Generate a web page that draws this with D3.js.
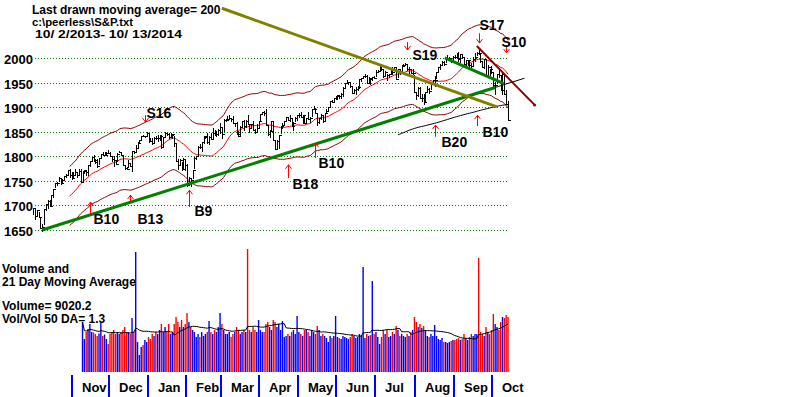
<!DOCTYPE html>
<html>
<head>
<meta charset="utf-8">
<script src="https://cdn.jsdelivr.net/npm/d3@7"></script>
<style>
  body { margin: 0; background: #fff; }
  svg { display: block; font-family: "Liberation Sans", Arial, sans-serif; font-weight: bold; }
</style>
</head>
<body>
<svg id="chart" width="795" height="397"></svg>
<script>
// S&P 500, 10/2/2013 - 10/13/2014, one entry per trading day (day 0 = Oct 2 2013)
const closes = [
  1694,1679,1691,1676,1655,1656,1693,1703,1710,1698,1722,1733,1745,1745,1755,1746,1752,1760,1762,1772,1763,1757, // Oct
  1762,1768,1763,1770,1747,1771,1772,1768,1782,1791,1798,1792,1788,1781,1796,1805,1802,1803,1807,1806, // Nov
  1801,1795,1793,1785,1805,1808,1803,1782,1776,1775,1787,1781,1811,1810,1818,1828,1833,1842,1841,1841,1848, // Dec
  1832,1831,1827,1838,1837,1838,1842,1819,1839,1848,1846,1839,1844,1845,1828,1790,1782,1793,1774,1794,1783, // Jan
  1742,1755,1752,1773,1797,1800,1820,1819,1830,1839,1841,1829,1840,1836,1848,1845,1845,1854,1859, // Feb
  1846,1874,1874,1877,1878,1877,1868,1868,1846,1841,1859,1872,1861,1872,1867,1857,1866,1853,1849,1858,1872, // Mar
  1886,1891,1889,1865,1845,1852,1872,1833,1816,1831,1843,1862,1865,1872,1880,1875,1879,1863,1869,1878,1884, // Apr
  1884,1881,1885,1868,1878,1876,1878,1897,1897,1889,1871,1878,1885,1873,1888,1892,1901,1912,1910,1920,1924, // May
  1925,1924,1928,1940,1949,1951,1951,1944,1930,1936,1938,1942,1957,1959,1963,1963,1950,1960,1957,1961,1960, // Jun
  1973,1975,1985,1978,1964,1973,1965,1968,1977,1973,1982,1958,1978,1974,1984,1987,1988,1978,1979,1970,1970,1931, // Jul
  1925,1939,1920,1920,1910,1932,1937,1934,1947,1955,1955,1972,1982,1987,1992,1988,1998,2000,2000,1997,2003, // Aug
  2002,2001,1998,2008,2002,1988,1996,1997,1986,1984,1999,2002,2011,2010,1994,1983,1998,1966,1983,1978,1972, // Sep
  1946,1946,1968,1965,1935,1969,1928,1906,1875 // Oct
];
const highs = [
  1694,1692,1691,1687,1677,1662,1693,1704,1711,1711,1722,1734,1745,1747,1759,1753,1753,1760,1764,1772,1775,1768,
  1768,1774,1767,1774,1775,1771,1773,1771,1783,1791,1799,1803,1795,1795,1797,1805,1808,1808,1808,1813,
  1810,1800,1800,1793,1806,1811,1808,1803,1783,1779,1792,1787,1812,1812,1823,1829,1834,1842,1844,1842,1849,
  1846,1838,1837,1840,1841,1843,1843,1843,1839,1850,1848,1847,1848,1846,1842,1827,1795,1795,1789,1796,1794,
  1784,1758,1756,1773,1798,1801,1822,1826,1830,1841,1842,1847,1842,1847,1858,1853,1852,1855,1868,
  1857,1876,1876,1883,1884,1878,1882,1868,1870,1852,1862,1873,1874,1874,1884,1867,1867,1872,1856,1866,1873,
  1886,1891,1893,1897,1864,1854,1873,1873,1833,1834,1844,1862,1869,1872,1880,1880,1884,1876,1870,1880,1884,
  1888,1891,1885,1885,1879,1890,1881,1897,1903,1898,1888,1879,1887,1885,1888,1896,1901,1912,1914,1920,1924,
  1925,1925,1929,1941,1950,1955,1951,1950,1943,1938,1941,1943,1958,1960,1964,1968,1966,1961,1959,1961,1964,
  1977,1976,1985,1985,1976,1974,1968,1968,1979,1982,1983,1981,1979,1977,1986,1989,1991,1988,1982,1978,1979,1965,
  1932,1942,1942,1928,1928,1932,1944,1939,1948,1955,1964,1972,1982,1988,1994,1994,2002,2006,2003,1999,2004,
  2006,2011,2012,2008,2008,2002,1996,1997,1996,1990,2002,2010,2012,2019,2010,1994,1999,1998,1986,1979,1985,
  1972,1952,1968,1977,1965,1970,1968,1936,1912
];
const lows = [
  1680,1671,1676,1675,1655,1646,1660,1689,1692,1697,1699,1716,1736,1740,1747,1742,1745,1751,1757,1762,1755,1752,
  1755,1762,1756,1762,1747,1746,1764,1761,1760,1779,1791,1789,1785,1777,1783,1795,1800,1800,1802,1805,
  1798,1788,1779,1783,1789,1806,1801,1780,1773,1772,1777,1780,1768,1805,1810,1818,1828,1834,1839,1837,1842,
  1828,1830,1823,1827,1833,1830,1832,1815,1819,1839,1841,1836,1837,1835,1820,1790,1773,1782,1771,1775,1770,
  1738,1741,1738,1753,1774,1792,1800,1815,1809,1825,1835,1826,1824,1835,1836,1841,1840,1841,1846,
  1835,1849,1871,1874,1874,1870,1866,1859,1844,1840,1842,1858,1851,1858,1865,1847,1858,1852,1845,1850,1858,
  1873,1884,1883,1863,1841,1837,1852,1832,1814,1816,1816,1846,1856,1863,1870,1874,1870,1860,1851,1870,1873,
  1879,1878,1867,1867,1866,1874,1868,1880,1895,1888,1862,1867,1874,1869,1873,1887,1893,1901,1909,1910,1916,
  1916,1918,1918,1922,1940,1947,1945,1940,1928,1930,1926,1933,1938,1952,1959,1960,1949,1947,1945,1953,1958,
  1961,1970,1975,1975,1960,1964,1953,1960,1969,1966,1975,1956,1960,1966,1975,1983,1985,1975,1968,1969,1966,1930,
  1916,1922,1918,1911,1905,1909,1932,1928,1935,1947,1941,1958,1972,1977,1987,1984,1991,1998,1996,1991,1995,
  1998,1999,1992,1990,1998,1987,1983,1985,1983,1978,1982,1993,2004,2006,1990,1982,1979,1965,1966,1964,1968,
  1942,1926,1948,1959,1935,1925,1928,1906,1874
];

// volume is shown from day 27 (Nov 8 2013) on
const volumeStart = 27;
const volumes = [
  8200,5410,6560,7050,7870,6560,6480,6230,5900,6300,8150,5900,6150,5410,4590, // Nov
  6230,6560,6890,6230,6560,6230,6560,6890,7380,6560,6560,6230,8860,6560,19680,4920,2790,4100,4430,5250,4920, // Dec
  5740,5410,6230,5900,6560,6230,6890,7870,6560,7380,6560,7870,6230,6560,7870,9020,8200,7380,8530,7380,7870, // Jan
  9680,8200,7380,6890,6560,5740,6230,5740,6560,5900,6230,6560,8360,6560,6230,6890,6560,7380,9680, // Feb
  7870,6890,6230,6230,6560,5740,6230,6560,7380,6890,6230,6560,6890,6560,20170,6890,6560,7380,6890,6560,8530, // Mar
  6890,6560,6560,7870,8200,7380,6890,8530,8200,7380,7870,6890,8360,5740,5900,6230,5900,6560,6890,6230,9180, // Apr
  6560,6230,5900,6890,6890,6560,5900,6890,6560,6230,7540,6890,5900,6230,5900,5580,4920,5900,5580,5900,9180, // May
  5740,5580,5410,5900,5740,5580,5410,5740,6230,5900,5580,5740,6230,5900,17220,5580,6230,5900,6070,14920,6230, // Jun
  6560,5740,4590,5740,6890,6230,6890,5740,5900,6560,6230,7540,6890,5900,6230,5900,5740,6230,5900,6560,6890,9020, // Jul
  8200,7380,7870,7220,7540,6890,5900,5740,6230,5900,7710,5900,5410,5250,5580,4920,4920,4760,4920,5080,5250, // Aug
  5250,5410,5580,5250,5410,6230,5580,5250,5740,6230,5900,6230,6230,18700,6560,6230,5900,7380,6560,6230,6890, // Sep
  9510,7870,7380,6890,8200,9020,8860,9350,9020.2 // Oct
];

const priceTicks = [1650, 1700, 1750, 1800, 1850, 1900, 1950, 2000];
const months = [
  {label: 'Nov', day: 22}, {label: 'Dec', day: 42}, {label: 'Jan', day: 63}, {label: 'Feb', day: 84},
  {label: 'Mar', day: 103}, {label: 'Apr', day: 124}, {label: 'May', day: 145}, {label: 'Jun', day: 166},
  {label: 'Jul', day: 187}, {label: 'Aug', day: 209}, {label: 'Sep', day: 230}, {label: 'Oct', day: 251}
];

// signals: arrow runs from `tail` price to `tip` price
const buySignals = [
  {label: 'B10', day: 31, tip: 1707, tail: 1681},
  {label: 'B13', day: 53, tip: 1721, tail: 1707},
  {label: 'B9', day: 85, tip: 1731, tail: 1697},
  {label: 'B18', day: 139, tip: 1783, tail: 1756},
  {label: 'B10', day: 154, tip: 1827, tail: 1797},
  {label: 'B20', day: 219, tip: 1864, tail: 1840},
  {label: 'B10', day: 242, tip: 1884, tail: 1862}
];
const sellSignals = [
  {label: 'S16', day: 61, tail: 1884, tip: 1870},
  {label: 'S19', day: 204, tail: 2033, tip: 2017},
  {label: 'S17', day: 243, tail: 2051, tip: 2031},
  {label: 'S10', day: 258, tail: 2027, tip: 2011}
];

// hand drawn trend lines, [day, price] end points
const trendLines = [
  {name: 'support', from: [5, 1650], to: [252, 1940.5]},
  {name: 'supportExt', from: [252, 1940.5], to: [268, 1959.4]},
  {name: 'topLine', from: [224.5, 2001], to: [256.5, 1949]},
  {name: 'longDown', from: [103, 2102], to: [253, 1901]},
  {name: 'shortDown', from: [242, 2025], to: [273.5, 1905]}
];

const svg = d3.select('#chart');

const x = d3.scaleLinear().domain([0, 259]).range([33, 508]);
const y = d3.scaleLinear().domain([1650, 2000]).range([230, 58.3]);
const vy = d3.scaleLinear().domain([0, 9020.2]).range([372, 317]);

const px = d => Math.round(x(d)) + 0.5;

// moving averages
function movingAverage(values, n) {
  return values.map((v, i) => i < n - 1 ? null : d3.mean(values.slice(i - n + 1, i + 1)));
}
const ma21 = movingAverage(closes, 21);
const ma200 = movingAverage(closes, 200);
const volMa = volumes.map((v, i) => d3.mean(volumes.slice(Math.max(0, i - 20), i + 1)));

// header
const header = svg.append('g').attr('fill', '#000');
header.append('text').attr('x', 32).attr('y', 13.5).attr('font-size', 12)
    .text('Last drawn moving average= 200');
header.append('text').attr('x', 32).attr('y', 25.5).attr('font-size', 11)
    .attr('textLength', 101).attr('lengthAdjust', 'spacingAndGlyphs').text('c:\\peerless\\S&P.txt');
header.append('text').attr('x', 35).attr('y', 38.3).attr('font-size', 11.5)
    .attr('textLength', 147).attr('lengthAdjust', 'spacingAndGlyphs').text('10/ 2/2013- 10/ 13/2014');

// price axis + dotted grid
svg.append('g')
    .attr('transform', 'translate(35,0)')
    .call(d3.axisLeft(y).tickValues(priceTicks).tickSize(-473).tickPadding(2).tickFormat(d3.format('d')))
    .call(g => g.select('.domain').remove())
    .call(g => g.selectAll('.tick').attr('transform', d => `translate(0,${Math.round(y(d)) + 0.5})`))
    .call(g => g.selectAll('.tick line').attr('stroke', '#008000').attr('stroke-dasharray', '1,2'))
    .call(g => g.selectAll('.tick text')
      .attr('font-family', '"Liberation Sans", Arial, sans-serif')
      .attr('font-size', 13).attr('font-weight', 'bold').attr('fill', '#000').attr('dy', '0.45em'))
    .attr('font-family', null).attr('font-size', null);

// bands around the 21-day average
const bandLine = (k) => d3.line()
    .defined(d => d.v != null)
    .x(d => x(d.i)).y(d => y(d.v * k));
const maPoints = ma21.map((v, i) => ({i, v}));
svg.append('path').datum(maPoints).attr('d', bandLine(1.035))
    .attr('fill', 'none').attr('stroke', '#8b0000').attr('stroke-width', 1);
svg.append('path').datum(maPoints).attr('d', bandLine(0.965))
    .attr('fill', 'none').attr('stroke', '#8b0000').attr('stroke-width', 1);
svg.append('path').datum(maPoints).attr('d', bandLine(1))
    .attr('fill', 'none').attr('stroke', '#ff0000').attr('stroke-width', 1);

// 200-day average
svg.append('path').datum(ma200.map((v, i) => ({i, v}))).attr('d', bandLine(1))
    .attr('fill', 'none').attr('stroke', '#000').attr('stroke-width', 1);

// daily bars
const bars = svg.append('g').attr('stroke', '#000').attr('shape-rendering', 'crispEdges');
bars.selectAll('line.hl').data(closes).join('line').attr('class', 'hl')
    .attr('x1', (d, i) => px(i)).attr('x2', (d, i) => px(i))
    .attr('y1', (d, i) => y(highs[i])).attr('y2', (d, i) => y(lows[i]));
bars.selectAll('line.cl').data(closes).join('line').attr('class', 'cl')
    .attr('x1', (d, i) => px(i) - 1).attr('x2', (d, i) => px(i) + 2)
    .attr('y1', d => Math.round(y(d)) + 0.5).attr('y2', d => Math.round(y(d)) + 0.5);

// trend lines
const trendStyle = {
  support: {stroke: '#008000', width: 3},
  supportExt: {stroke: '#000', width: 1},
  topLine: {stroke: '#008000', width: 3},
  longDown: {stroke: '#808000', width: 3},
  shortDown: {stroke: '#8b0000', width: 2}
};
svg.append('g').selectAll('line').data(trendLines).join('line')
    .attr('x1', d => x(d.from[0])).attr('y1', d => y(d.from[1]))
    .attr('x2', d => x(d.to[0])).attr('y2', d => y(d.to[1]))
    .attr('stroke', d => trendStyle[d.name].stroke)
    .attr('stroke-width', d => trendStyle[d.name].width);
const sd = trendLines.find(d => d.name === 'shortDown');
svg.append('circle').attr('cx', x(sd.to[0])).attr('cy', y(sd.to[1])).attr('r', 1.5).attr('fill', '#8b0000');

// signals
const buyNudge = [[3, 9], [7, 22], [5, 9], [4, 11], [3, 10], [6, 10], [5, 11]];
const sellNudge = [[1, 3], [5, 18], [0, -3], [-5, 2]];
const arrows = svg.append('g').attr('stroke', '#ff0000').attr('fill', 'none');
buySignals.forEach(s => {
  const ax = px(s.day), t = y(s.tip), b = y(s.tail);
  arrows.append('path').attr('d', `M${ax},${b}V${t}M${ax - 3},${t + 4}L${ax},${t}L${ax + 3},${t + 4}`);
});
sellSignals.forEach(s => {
  const ax = px(s.day), t = y(s.tip), b = y(s.tail);
  arrows.append('path').attr('d', `M${ax},${b}V${t}M${ax - 3},${t - 4}L${ax},${t}L${ax + 3},${t - 4}`);
});
const labels = svg.append('g').attr('font-size', 14).attr('fill', '#000');
buySignals.forEach((s, i) => {
  labels.append('text').attr('x', px(s.day) + buyNudge[i][0]).attr('y', y(s.tail) + buyNudge[i][1]).text(s.label);
});
sellSignals.forEach((s, i) => {
  labels.append('text').attr('x', px(s.day) + sellNudge[i][0]).attr('y', y(s.tail) + sellNudge[i][1]).text(s.label);
});

// volume panel
const vtext = svg.append('g').attr('font-size', 12).attr('fill', '#000');
vtext.append('text').attr('x', 2).attr('y', 273).text('Volume and');
vtext.append('text').attr('x', 2).attr('y', 286).text('21 Day Moving Average');
vtext.append('text').attr('x', 2).attr('y', 310).text('Volume= ' + d3.format('.1f')(volumes[volumes.length - 1]));
vtext.append('text').attr('x', 2).attr('y', 323).text('Vol/Vol 50 DA= 1.3');

svg.append('g')
  .selectAll('line').data(volumes).join('line')
    .attr('x1', (d, i) => x(i + volumeStart)).attr('x2', (d, i) => x(i + volumeStart))
    .attr('y1', vy(0)).attr('y2', d => vy(d))
    .attr('stroke-width', 1.4)
    .attr('stroke', (d, i) => {
      const k = i + volumeStart;
      return closes[k] >= closes[k - 1] ? '#0000ff' : '#ff0000';
    });

svg.append('path').datum(volMa)
    .attr('d', d3.line().x((d, i) => x(i + volumeStart)).y(d => vy(d)))
    .attr('fill', 'none').attr('stroke', '#000').attr('stroke-width', 1);

// month axis
const monthAxis = svg.append('g');
monthAxis.selectAll('line').data(months).join('line')
    .attr('x1', d => Math.round(x(d.day)) - 1).attr('x2', d => Math.round(x(d.day)) - 1)
    .attr('y1', 375).attr('y2', 397)
    .attr('stroke', '#0000ff').attr('stroke-width', 2);
monthAxis.selectAll('text').data(months).join('text')
    .attr('x', d => Math.round(x(d.day)) + 9).attr('y', 392)
    .attr('font-size', 13).attr('fill', '#000')
    .text(d => d.label);
</script>
</body>
</html>
